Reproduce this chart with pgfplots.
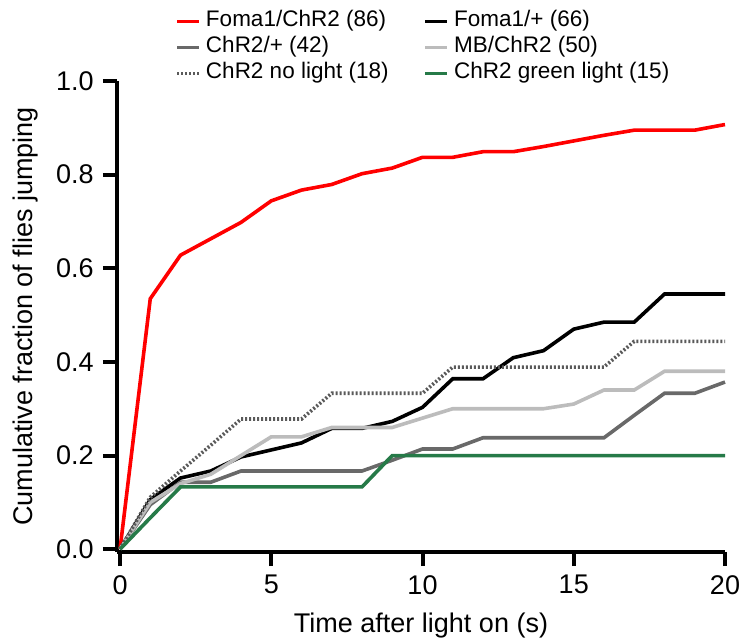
\documentclass[border=0pt]{standalone}
\usepackage{fontspec}
\setmainfont{Liberation Sans}
\usepackage{pgfplots}
\pgfplotsset{compat=1.18}

\definecolor{cRed}{RGB}{255,0,0}
\definecolor{cDark}{RGB}{105,105,105}
\definecolor{cLight}{RGB}{188,188,188}
\definecolor{cDot}{RGB}{90,90,90}
\definecolor{cGreen}{RGB}{38,122,72}

\begin{document}
\fontsize{13.5bp}{16bp}\selectfont
\begin{tikzpicture}
\begin{axis}[
    width=304bp, height=235.5bp, scale only axis,
    xmin=-0.1, xmax=20, ymin=-0.006, ymax=1,
    axis lines=left,
    axis line style={-, line width=2bp},
    clip=false,
    xtick={0,5,10,15,20},
    ytick={0,0.2,0.4,0.6,0.8,1},
    tick align=outside,
    major tick length=7bp,
    tick style={line width=2bp, black},
    /pgf/number format/assume math mode=true,
    y tick label style={/pgf/number format/fixed, /pgf/number format/fixed zerofill, /pgf/number format/precision=1},
    xlabel={Time after light on (s)},
    ylabel={Cumulative fraction of flies jumping},
    legend columns=2,
    legend style={draw=none, fill=none, inner sep=0pt,
        at={(axis description cs:0.0954,1.155)}, anchor=north west,
        font=\fontsize{11.25bp}{13bp}\selectfont,
        nodes={inner xsep=2.5bp, inner ysep=0pt, text height=9bp, text depth=4bp},
        /tikz/every even column/.append style={column sep=15bp},
        cells={anchor=west}},
    legend image code/.code={\draw[#1] (0bp,0bp) -- (11bp,0bp);},
    every axis plot/.append style={line width=1.8bp},
]
% Foma1/ChR2 (86)
\addplot[cRed] coordinates {
    (0,0) (1,0.535) (2,0.628) (3,0.663) (4,0.698) (5,0.744) (6,0.767)
    (7,0.779) (8,0.802) (9,0.814) (10,0.837) (11,0.837) (12,0.849)
    (13,0.849) (14,0.860) (15,0.872) (16,0.884) (17,0.895) (18,0.895)
    (19,0.895) (20,0.907)
};
% Foma1/+ (66)
\addplot[black] coordinates {
    (0,0) (1,0.106) (2,0.152) (3,0.167) (4,0.197) (5,0.212) (6,0.227)
    (7,0.258) (8,0.258) (9,0.273) (10,0.303) (11,0.364) (12,0.364)
    (13,0.409) (14,0.424) (15,0.470) (16,0.485) (17,0.485) (18,0.545)
    (19,0.545) (20,0.545)
};
% ChR2/+ (42)
\addplot[cDark] coordinates {
    (0,0) (1,0.095) (2,0.143) (3,0.143) (4,0.167) (5,0.167) (6,0.167)
    (7,0.167) (8,0.167) (9,0.190) (10,0.214) (11,0.214) (12,0.238)
    (13,0.238) (14,0.238) (15,0.238) (16,0.238) (17,0.286) (18,0.333)
    (19,0.333) (20,0.357)
};
% MB/ChR2 (50)
\addplot[cLight] coordinates {
    (0,0) (1,0.10) (2,0.14) (3,0.16) (4,0.20) (5,0.24) (6,0.24)
    (7,0.26) (8,0.26) (9,0.26) (10,0.28) (11,0.30) (12,0.30)
    (13,0.30) (14,0.30) (15,0.31) (16,0.34) (17,0.34) (18,0.38)
    (19,0.38) (20,0.38)
};
% ChR2 no light (18)
\addplot[cDot, dash pattern=on 1bp off 1bp] coordinates {
    (0,0) (1,0.111) (2,0.167) (3,0.222) (4,0.278) (5,0.278) (6,0.278)
    (7,0.333) (8,0.333) (9,0.333) (10,0.333) (11,0.389) (12,0.389)
    (13,0.389) (14,0.389) (15,0.389) (16,0.389) (17,0.444) (18,0.444)
    (19,0.444) (20,0.444)
};
% ChR2 green light (15)
\addplot[cGreen] coordinates {
    (0,0) (1,0.067) (2,0.133) (3,0.133) (4,0.133) (5,0.133) (6,0.133)
    (7,0.133) (8,0.133) (9,0.2) (10,0.2) (11,0.2) (12,0.2) (13,0.2)
    (14,0.2) (15,0.2) (16,0.2) (17,0.2) (18,0.2) (19,0.2) (20,0.2)
};
\legend{Foma1/ChR2 (86), Foma1/+ (66), ChR2/+ (42), MB/ChR2 (50),
        ChR2 no light (18), ChR2 green light (15)}
\end{axis}
\pgfresetboundingbox
\path (current axis.south west) ++(-58.5bp,-44bp) rectangle ++(372bp,320bp);
\end{tikzpicture}
\end{document}
